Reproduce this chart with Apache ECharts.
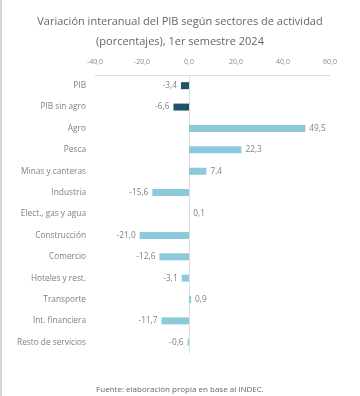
<!DOCTYPE html>
<html><head><meta charset="utf-8">
<script src="https://cdn.jsdelivr.net/npm/echarts@6/dist/echarts.min.js"></script>
<style>html,body{margin:0;padding:0;background:#fff}#c{width:360px;height:396px}</style>
</head><body><div id="c"></div>
<script>
const categories = ["PIB","PIB sin agro","Agro","Pesca","Minas y canteras","Industria","Elect., gas y agua","Construcción","Comercio","Hoteles y rest.","Transporte","Int. financiera","Resto de servicios"];
const values = [-3.4,-6.6,49.5,22.3,7.4,-15.6,0.1,-21.0,-12.6,-3.1,0.9,-11.7,-0.6];
const highlighted = ["PIB","PIB sin agro"];
const xTicks = [-40,-20,0,20,40,60];
const darkColor = "#1d5566";
const lightColor = "#8ccadb";
const fmt = v => v.toFixed(1).replace('.', ',');

const chart = echarts.init(document.getElementById('c'), null, {renderer:'canvas'});
chart.setOption({
  animation:false,
  backgroundColor:'#fff',
  title:{
    text:'Variación interanual del PIB según sectores de actividad\n(porcentajes), 1er semestre 2024',
    left:'center', top:7,
    textStyle:{fontFamily:'Open Sans', fontSize:11, fontWeight:'normal', color:'#666', lineHeight:20}
  },
  grid:{left:95, right:30, top:75, bottom:43, containLabel:false},
  xAxis:{
    type:'value', position:'top', min:xTicks[0], max:xTicks[xTicks.length-1], interval:20,
    axisLine:{show:true, lineStyle:{color:'#ddd', width:1}},
    axisTick:{show:false}, splitLine:{show:false},
    axisLabel:{fontFamily:'Open Sans', fontSize:7, color:'#888', margin:10, formatter:v=>fmt(v)}
  },
  yAxis:{
    type:'category', inverse:true, data:categories,
    axisLine:{show:true, onZero:true, lineStyle:{color:'#ddd', width:1}},
    axisTick:{show:false},
    axisLabel:{fontFamily:'Open Sans', fontSize:8.3, color:'#808080', margin:9}
  },
  series:[{
    type:'bar', barWidth:7,
    data: values.map((v,i)=>({
      value:v,
      itemStyle:{color: highlighted.includes(categories[i]) ? darkColor : lightColor},
      label:{show:true, position: v<0 ? 'left':'right', distance:4,
        formatter:()=>fmt(v), fontFamily:'Open Sans', fontSize:8.3, color:'#808080'}
    }))
  }],
  graphic:[
    {type:'rect', left:0, top:0, shape:{x:0,y:0,width:2,height:396}, style:{fill:'#d4d4d4'}},
    {type:'text', left:'center', top:386, style:{text:'Fuente: elaboración propia en base al INDEC.', font:'8px "Open Sans"', fill:'#666'}}
  ]
});
</script></body></html>
